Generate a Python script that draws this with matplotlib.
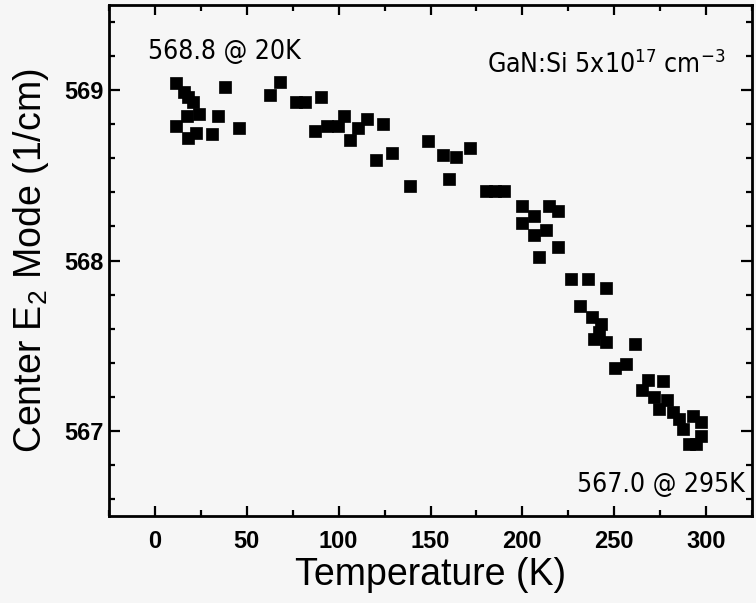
import matplotlib
matplotlib.use("Agg")
import matplotlib.pyplot as plt
from matplotlib.ticker import MultipleLocator
from matplotlib import font_manager

# ---- data ----
temperature_K = [11.4, 15.8, 18.1, 20.5, 24.1, 17.2, 11.4, 18.1, 22.3, 30.8,
                 34.4, 38.0, 45.8, 62.9, 67.9, 76.6, 81.5, 90.2, 87.0, 93.9,
                 99.6, 102.9, 106.3, 110.5, 115.6, 124.1, 120.1, 129.2, 139.1, 148.4,
                 156.7, 163.9, 171.5, 160.3, 180.0, 185.0, 190.0, 199.8, 214.3, 219.2,
                 206.5, 199.8, 212.8, 206.5, 219.2, 209.2, 226.4, 235.5, 245.5, 231.3,
                 237.8, 242.8, 241.8, 239.1, 245.5, 261.4, 250.5, 256.5, 268.5, 276.7,
                 265.2, 271.7, 279.0, 274.6, 281.9, 285.3, 292.9, 297.1, 287.2, 297.5,
                 290.6, 294.7]
center_cm = [569.04, 568.99, 568.96, 568.93, 568.86, 568.85, 568.79, 568.72, 568.75, 568.74,
             568.85, 569.02, 568.78, 568.97, 569.05, 568.93, 568.93, 568.96, 568.76, 568.79,
             568.79, 568.85, 568.71, 568.78, 568.83, 568.80, 568.59, 568.63, 568.44, 568.70,
             568.62, 568.61, 568.66, 568.48, 568.41, 568.41, 568.41, 568.32, 568.32, 568.29,
             568.26, 568.22, 568.18, 568.15, 568.08, 568.02, 567.89, 567.89, 567.84, 567.73,
             567.67, 567.63, 567.58, 567.54, 567.52, 567.51, 567.37, 567.39, 567.30, 567.29,
             567.24, 567.20, 567.18, 567.13, 567.11, 567.07, 567.09, 567.05, 567.01, 566.97,
             566.92, 566.92]
x_ticks = [0, 50, 100, 150, 200, 250, 300]
y_ticks = [567, 568, 569]
x_label = "Temperature (K)"
y_label = "Center E$_2$ Mode (1/cm)"
note_low = "568.8 @ 20K"
note_high = "567.0 @ 295K"
sample_label = "GaN:Si 5x10$^{17}$ cm$^{-3}$"

# ---- fonts ----
names = {f.name for f in font_manager.fontManager.ttflist}
base = "Liberation Sans" if "Liberation Sans" in names else "DejaVu Sans"
plt.rcParams["font.family"] = [base, "DejaVu Sans"]
plt.rcParams["mathtext.default"] = "regular"

if "Liberation Sans Narrow" in names:
    note_font = dict(family=["Liberation Sans Narrow", base], size=22)
else:
    cond = [f for f in font_manager.fontManager.ttflist
            if f.name == "DejaVu Sans" and "condensed" in str(f.stretch).lower()]
    if cond:
        note_font = dict(family=["DejaVu Sans"], stretch="condensed", size=19)
    else:
        note_font = dict(family=[base], size=18)

bg = "#f6f6f6"
fig = plt.figure(figsize=(7.56, 6.03), dpi=100, facecolor=bg)
ax = fig.add_axes([109 / 756, 1 - 516 / 603, (752 - 109) / 756, (516 - 5) / 603])
ax.set_facecolor(bg)

ax.plot(temperature_K, center_cm, linestyle="none", marker="s", markersize=8.5,
        color="black", markeredgecolor="black", markeredgewidth=0.5)

ax.set_xlim(-25, 325)
ax.set_ylim(566.5, 569.5)
ax.set_xticks(x_ticks)
ax.set_yticks(y_ticks)
ax.xaxis.set_minor_locator(MultipleLocator(25))
ax.yaxis.set_minor_locator(MultipleLocator(0.2))
ax.set_xticklabels([str(v) for v in x_ticks], fontsize=17, fontweight="bold")
ax.set_yticklabels([str(v) for v in y_ticks], fontsize=17, fontweight="bold")

ax.tick_params(which="both", direction="in", top=True, right=True, width=1.6, color="black")
ax.tick_params(axis="x", which="major", length=7, pad=10)
ax.tick_params(axis="y", which="major", length=8, pad=4)
ax.tick_params(which="minor", length=4.5)
for s in ax.spines.values():
    s.set_linewidth(2.0)

ax.set_xlabel(x_label, fontsize=27, va="center")
ax.xaxis.set_label_coords(0.5, -0.115)
ax.set_ylabel(y_label, fontsize=27, va="center")
ax.yaxis.set_label_coords(-0.121, 0.5)

ax.text(0.061, 0.909, note_low, transform=ax.transAxes, ha="left", va="center", **note_font)
ax.text(0.958, 0.883, sample_label, transform=ax.transAxes, ha="right", va="center", **note_font)
ax.text(0.989, 0.061, note_high, transform=ax.transAxes, ha="right", va="center", **note_font)

fig.savefig("out.png", dpi=100, facecolor=bg)
